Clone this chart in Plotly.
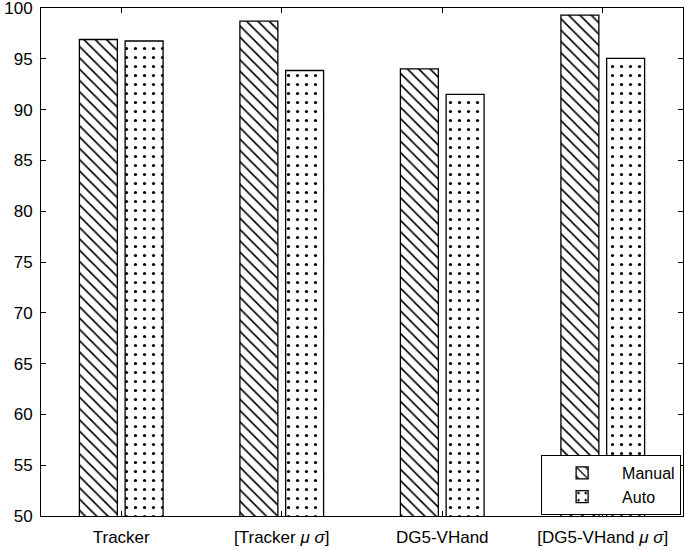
import plotly.graph_objs as go

categories = ['Tracker', '[Tracker <i>μ σ</i>]', 'DG5-VHand', '[DG5-VHand <i>μ σ</i>]']
manual = [96.9, 98.7, 94.0, 99.3]
auto = [96.75, 93.85, 91.5, 95.05]

fig = go.Figure()
fig.add_trace(go.Bar(
    x=categories, y=manual, name='Manual',
    marker=dict(color='white', line=dict(color='black', width=1.3),
                pattern=dict(shape='\\', fgcolor='black', bgcolor='white',
                             fgopacity=1, size=8, solidity=0.2))
))
fig.add_trace(go.Bar(
    x=categories, y=auto, name='Auto',
    marker=dict(color='white', line=dict(color='black', width=1.3),
                pattern=dict(shape='.', fgcolor='black', bgcolor='white',
                             fgopacity=1, size=9, solidity=0.1))
))

fig.update_layout(
    width=685, height=550,
    margin=dict(l=41, r=2, t=8, b=34),
    barmode='group', bargap=0.43, bargroupgap=0.17,
    plot_bgcolor='white', paper_bgcolor='white',
    font=dict(family='Liberation Sans, Arial, sans-serif', size=17, color='black'),
    showlegend=True,
    legend=dict(x=0.779, y=0.002, xanchor='left', yanchor='bottom',
                bordercolor='black', borderwidth=1, bgcolor='white',
                font=dict(size=16), tracegroupgap=0, itemwidth=70),
    xaxis=dict(showline=True, linecolor='black', linewidth=1, mirror='ticks',
               ticks='inside', ticklen=5, tickcolor='black', showgrid=False,
               automargin=False, ticklabelstandoff=6),
    yaxis=dict(range=[50, 100], tickvals=[50, 55, 60, 65, 70, 75, 80, 85, 90, 95, 100],
               showline=True, linecolor='black', linewidth=1,
               mirror='ticks', ticks='inside', ticklen=5, tickcolor='black',
               showgrid=False, zeroline=False, ticklabeloverflow='allow',
               automargin=False, ticklabelstandoff=4),
)

# page body has a default 8px margin; drop it so the figure sits at the window corner
fig.write_html("out.html", config={'displayModeBar': False},
               post_script="document.body.style.margin='0';")
